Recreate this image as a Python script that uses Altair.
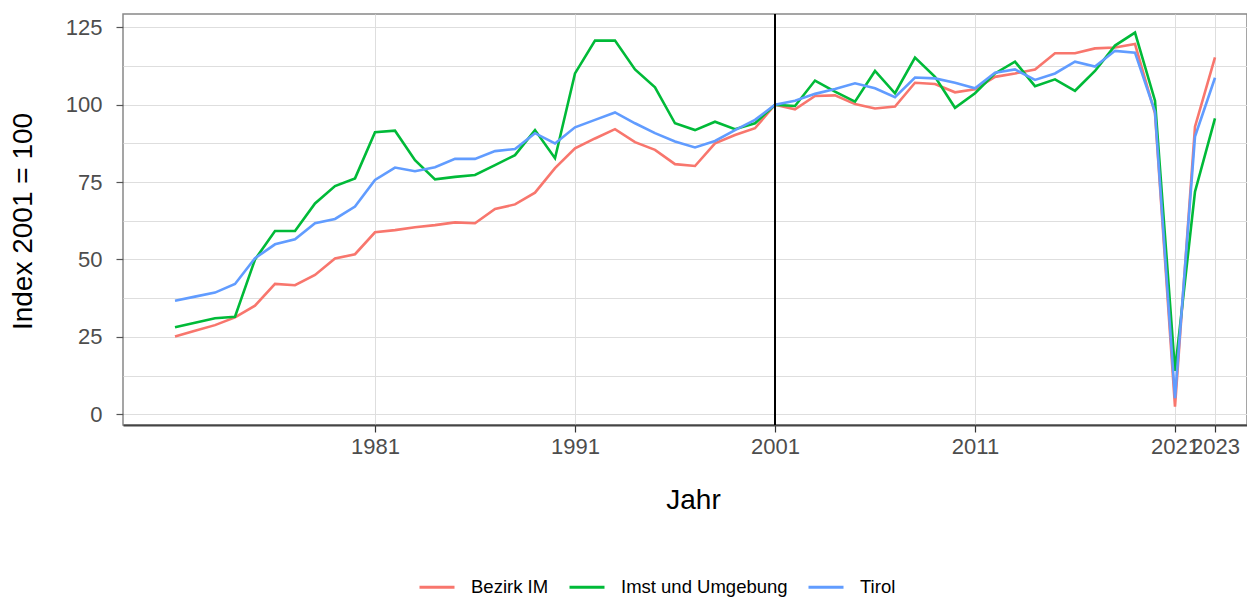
import altair as alt
import pandas as pd

years = list(range(1971, 2024))
series_names = ["Bezirk IM", "Imst und Umgebung", "Tirol"]
colors = ["#F8766D", "#00BA38", "#619CFF"]

bezirk_im = [25.1, 27.0, 28.8, 31.3, 35.1, 42.1, 41.7, 45.0, 50.3, 51.7,
             58.8, 59.5, 60.4, 61.1, 62.0, 61.7, 66.3, 67.8, 71.6, 79.5,
             85.9, 89.1, 92.1, 87.9, 85.4, 80.8, 80.2, 87.5, 90.2, 92.4,
             100.0, 98.5, 102.8, 103.0, 100.2, 98.8, 99.4, 107.1, 106.7, 104.0,
             105.0, 109.0, 110.1, 111.4, 116.6, 116.6, 118.2, 118.5, 119.6, 97.2,
             2.5, 92.9, 115.3]
imst = [28.1, 29.6, 31.0, 31.5, 50.0, 59.2, 59.2, 68.1, 73.7, 76.2,
        91.1, 91.6, 82.1, 75.9, 76.7, 77.3, 80.5, 83.7, 91.8, 82.7,
        110.1, 120.7, 120.7, 111.4, 105.6, 94.0, 91.8, 94.5, 92.1, 94.0,
        100.0, 99.6, 107.8, 104.2, 101.0, 110.9, 103.7, 115.2, 109.0, 99.0,
        103.7, 110.1, 113.9, 106.0, 108.2, 104.5, 110.9, 119.1, 123.3, 101.3,
        14.0, 71.9, 95.6]
tirol = [36.7, 38.0, 39.3, 42.1, 50.4, 54.9, 56.5, 61.7, 63.1, 67.1,
         75.7, 79.7, 78.5, 79.8, 82.5, 82.5, 85.0, 85.7, 90.8, 87.5,
         92.7, 95.1, 97.5, 94.0, 90.8, 88.1, 86.2, 88.3, 91.8, 95.1,
         100.0, 101.3, 103.5, 105.1, 106.9, 105.3, 102.4, 108.8, 108.5, 107.1,
         105.3, 110.3, 111.4, 108.0, 110.1, 113.9, 112.3, 117.4, 116.8, 97.7,
         5.2, 89.7, 108.7]

x_ticks = [1981, 1991, 2001, 2011, 2021, 2023]
y_grid = [0, 12.5, 25, 37.5, 50, 62.5, 75, 87.5, 100, 112.5, 125]
ref_year = [2001]

rows = []
for name, vals in zip(series_names, [bezirk_im, imst, tirol]):
    for yr, v in zip(years, vals):
        rows.append({"Jahr": yr, "Index": v, "Region": name})
df = pd.DataFrame(rows)

FONT = "Liberation Sans"
x_scale = alt.Scale(domain=[1968.4, 2024.6], nice=False, zero=False)
y_scale = alt.Scale(domain=[-3.46, 129.3], nice=False, zero=False)

x_axis = alt.Axis(
    values=x_ticks, format="d", title="Jahr",
    labelOverlap=False, labelFlush=False, labelBound=False,
    grid=True, gridColor="#dedede", gridWidth=1,
    tickColor="#333333", tickSize=7, tickWidth=1.2,
    domainColor="#444444", domainWidth=2,
    labelFont=FONT, labelFontSize=22, labelColor="#4d4d4d", labelPadding=4,
    titleFont=FONT, titleFontSize=28, titleColor="black", titleFontWeight="normal",
    titleX=570, titleY=75, titleAlign="center", titleBaseline="middle",
)
y_axis = alt.Axis(
    values=y_grid, title="Index 2001 = 100",
    labelExpr="datum.value % 25 === 0 ? datum.label : ''",
    tickOpacity={"condition": {"test": "datum.value % 25 !== 0", "value": 0}, "value": 1},
    grid=True, gridColor="#dedede", gridWidth=1,
    domain=False, tickColor="#555555", tickSize=7, tickWidth=1.2,
    labelFont=FONT, labelFontSize=22, labelColor="#4d4d4d", labelPadding=14,
    titleFont=FONT, titleFontSize=28, titleColor="black", titleFontWeight="normal",
    titleX=-100, titleY=207, titleAlign="center", titleBaseline="middle", titleAngle=270,
)

lines = alt.Chart(df).mark_line(strokeWidth=2.6).encode(
    x=alt.X("Jahr:Q", scale=x_scale, axis=x_axis),
    y=alt.Y("Index:Q", scale=y_scale, axis=y_axis),
    color=alt.Color(
        "Region:N",
        scale=alt.Scale(domain=series_names, range=colors),
        sort=series_names,
        legend=alt.Legend(
            orient="none", legendX=295, legendY=554, direction="horizontal",
            title=None, symbolType="stroke", symbolSize=1225, symbolStrokeWidth=3,
            labelFont=FONT, labelFontSize=18.5, labelColor="black", labelLimit=400,
            labelOffset=15, columnPadding=14, padding=0,
        ),
    ),
)

rule = alt.Chart(pd.DataFrame({"Jahr": ref_year})).mark_rule(
    color="black", strokeWidth=2
).encode(x=alt.X("Jahr:Q", scale=x_scale))

chart = alt.layer(lines, rule).properties(
    width=1124, height=411,
    autosize=alt.AutoSizeParams(type="none"),
    padding={"left": 115, "top": 6, "right": 0, "bottom": 175},
).configure_view(stroke="#888888", strokeWidth=1.5)

chart.save("out.html", embed_options={"renderer": "svg", "actions": False})
